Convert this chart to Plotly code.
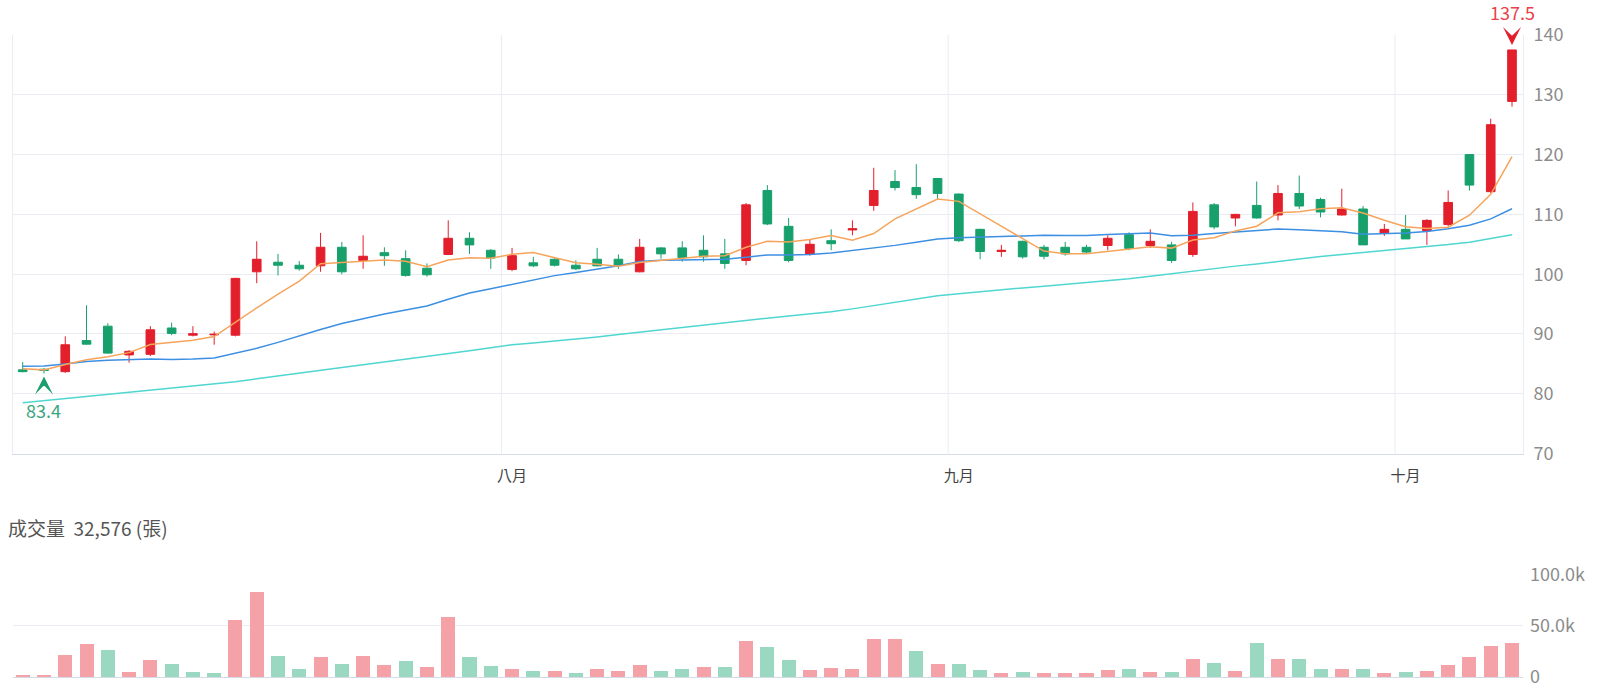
import plotly.graph_objects as go

# ---------------- data ----------------
opens = [84.0, 84.1, 83.7, 88.9, 91.3, 86.5, 86.6, 91.0, 89.8, 89.85,
         89.8, 100.4, 102.0, 101.5, 101.4, 104.5, 102.3, 103.6, 102.6, 101.0,
         103.3, 106.0, 104.0, 100.8, 101.9, 102.5, 101.5, 102.5, 102.5, 100.4,
         104.4, 104.4, 104.0, 103.4, 102.3, 114.0, 108.0, 103.3, 105.6, 107.4,
         111.5, 115.5, 114.5, 116.0, 113.4, 107.5, 103.8, 105.5, 104.5, 104.5,
         104.5, 104.8, 106.6, 104.8, 104.9, 103.3, 111.6, 109.4, 111.5, 109.9,
         113.5, 112.5, 109.9, 110.9, 106.9, 107.5, 107.3, 108.3, 120.0, 113.8, 128.9]
highs = [85.3, 84.3, 89.6, 94.8, 91.8, 87.3, 91.3, 91.9, 91.3, 90.4,
         99.4, 105.5, 103.4, 102.2, 106.9, 105.4, 106.5, 104.5, 104.0, 101.8,
         109.0, 107.0, 104.2, 104.4, 102.9, 102.7, 102.3, 104.4, 103.3, 105.9,
         104.5, 105.5, 106.5, 105.9, 111.9, 114.9, 109.4, 105.9, 107.5, 109.0,
         117.8, 117.4, 118.4, 116.1, 113.5, 107.6, 104.9, 105.6, 104.9, 105.4,
         104.9, 106.5, 107.0, 107.5, 105.4, 112.0, 111.9, 110.1, 115.5, 114.9,
         116.5, 112.8, 114.3, 111.4, 108.4, 109.9, 109.2, 114.0, 120.0, 126.0, 137.5]
lows = [83.6, 83.4, 83.5, 88.2, 86.7, 85.2, 86.3, 89.8, 89.6, 88.2,
        89.6, 98.5, 99.8, 100.6, 100.4, 100.0, 100.9, 101.4, 99.6, 99.6,
        103.2, 103.4, 100.9, 100.5, 101.2, 101.3, 100.7, 101.3, 100.9, 100.3,
        102.6, 102.1, 102.1, 100.9, 101.5, 108.2, 102.0, 103.1, 104.0, 106.5,
        110.6, 114.0, 112.6, 112.4, 105.4, 102.5, 102.9, 102.6, 102.5, 103.1,
        103.4, 104.0, 104.0, 104.4, 101.9, 102.9, 107.5, 108.0, 109.3, 109.0,
        110.9, 109.5, 109.8, 104.9, 106.4, 105.9, 104.9, 108.0, 114.0, 113.6, 128.0]
closes = [83.7, 83.9, 88.2, 88.3, 86.8, 87.1, 90.7, 90.1, 90.05, 89.95,
          99.3, 102.5, 101.5, 100.9, 104.5, 100.4, 103.0, 103.1, 99.8, 99.9,
          106.0, 104.9, 102.7, 103.1, 101.4, 101.5, 100.9, 101.4, 101.5, 104.5,
          103.4, 102.8, 102.9, 101.8, 111.6, 108.4, 102.3, 105.0, 105.1, 107.6,
          114.0, 114.5, 113.3, 113.5, 105.6, 103.8, 104.0, 102.9, 103.0, 103.4,
          103.7, 106.0, 104.3, 105.5, 102.3, 110.5, 107.9, 110.0, 109.4, 113.5,
          111.4, 110.4, 110.9, 104.9, 107.5, 105.9, 109.0, 112.0, 114.9, 125.0, 137.5]
volumes = [1900, 1900, 21000, 31700, 26200, 4900, 16500, 12000, 4500, 3800,
           55600, 82800, 20100, 7900, 19500, 12800, 20300, 11500, 15500, 9500,
           58000, 19200, 10600, 7100, 5200, 5800, 3900, 7800, 5500, 11300,
           5200, 7800, 9400, 9400, 35000, 28500, 16700, 6500, 8100, 7400,
           36600, 36600, 25200, 12000, 12000, 6500, 3900, 4900, 3900, 3600,
           3600, 6100, 7400, 4900, 4900, 17500, 12900, 5800, 32400, 17200,
           17500, 7800, 7800, 7400, 3600, 4900, 5800, 11700, 19400, 29800, 32576]
ma5 = [84.2, 84.0, 84.9, 85.7, 86.2, 86.88, 88.24, 88.62, 88.95, 89.58,
       92.02, 94.38, 96.66, 98.83, 101.74, 101.96, 102.06, 102.38, 102.16, 101.24,
       102.36, 102.74, 102.66, 103.32, 103.62, 102.72, 101.92, 101.66, 101.34, 101.96,
       102.34, 102.72, 103.02, 103.08, 104.5, 105.5, 105.4, 105.82, 106.48, 105.68,
       106.8, 109.24, 110.9, 112.58, 112.18, 110.14, 108.04, 105.96, 103.86, 103.42,
       103.4, 103.8, 104.08, 104.58, 104.36, 105.72, 106.1, 107.24, 108.02, 110.26,
       110.44, 110.94, 111.12, 110.22, 109.02, 107.92, 107.64, 107.86, 109.86, 113.36, 119.68]
ma20 = [84.6, 84.65, 85.0, 85.4, 85.6, 85.75, 85.8, 85.75, 85.8, 86.0,
        86.75, 87.6, 88.6, 89.7, 90.75, 91.75, 92.6, 93.35, 94.0, 94.69,
        95.8, 96.85, 97.58, 98.31, 99.04, 99.76, 100.27, 100.84, 101.41, 102.14,
        102.35, 102.36, 102.43, 102.48, 102.83, 103.23, 103.2, 103.29, 103.56, 103.94,
        104.34, 104.82, 105.35, 105.87, 106.08, 106.2, 106.35, 106.43, 106.5, 106.45,
        106.46, 106.62, 106.69, 106.88, 106.41, 106.52, 106.8, 107.05, 107.26, 107.56,
        107.43, 107.22, 107.1, 106.67, 106.77, 106.87, 107.12, 107.58, 108.17, 109.25, 110.94]
ma60 = [78.5, 78.85, 79.2, 79.55, 79.9, 80.2, 80.55, 80.9, 81.2, 81.55,
        82.0, 82.5, 83.0, 83.45, 83.9, 84.4, 84.85, 85.3, 85.8, 86.25,
        86.75, 87.2, 87.7, 88.2, 88.5, 88.8, 89.1, 89.5, 89.9, 90.3,
        90.7, 91.1, 91.5, 91.95, 92.3, 92.65, 93.0, 93.35, 93.7, 94.2,
        94.75, 95.3, 95.85, 96.4, 96.75, 97.1, 97.4, 97.7, 98.0, 98.3,
        98.6, 98.9, 99.25, 99.65, 100.1, 100.5, 100.95, 101.35, 101.7, 102.06,
        102.52, 102.96, 103.34, 103.62, 103.96, 104.28, 104.58, 104.95, 105.36, 105.95, 106.58]
prior_close = 83.5          # close of the session before the first visible one
month_labels = ["八月", "九月", "十月"]
month_first_session = [23, 44, 65]   # index of the first trading day of each month
price_ticks = [70, 80, 90, 100, 110, 120, 130, 140]
volume_ticks = [0, 50000, 100000]
volume_tick_text = ["0", "50.0k", "100.0k"]
volume_title = "成交量"
volume_unit = "張"

# ---------------- styles ----------------
RED = "#e31f2c"
GREEN = "#17a06c"
VOL_RED = "#f4a2a7"
VOL_GREEN = "#9ad8c1"
C_MA5 = "#f6a45c"
C_MA20 = "#3c8fe2"
C_MA60 = "#4fd6d1"
GRID = "#e9ecf3"
AXIS = "#d6dbe6"
FONT = "Noto Sans CJK TC, Noto Sans, sans-serif"

x = list(range(len(closes)))
prev = [prior_close] + closes[:-1]
vol_colors = [VOL_RED if c >= p else VOL_GREEN for c, p in zip(closes, prev)]

fig = go.Figure()

# price moving averages
for vals, col in ((ma60, C_MA60), (ma20, C_MA20), (ma5, C_MA5)):
    fig.add_trace(go.Scatter(x=x, y=vals, mode="lines", line=dict(color=col, width=1.5),
                             hoverinfo="skip", showlegend=False, xaxis="x", yaxis="y"))

fig.add_trace(go.Candlestick(
    x=x, open=opens, high=highs, low=lows, close=closes,
    increasing=dict(line=dict(color=RED, width=1), fillcolor=RED),
    decreasing=dict(line=dict(color=GREEN, width=1), fillcolor=GREEN),
    whiskerwidth=0, hoverinfo="skip", showlegend=False, xaxis="x", yaxis="y"))

fig.add_trace(go.Bar(x=x, y=volumes, marker=dict(color=vol_colors, line=dict(width=0)),
                     width=0.66, hoverinfo="skip", showlegend=False, xaxis="x2", yaxis="y2"))

# highest / lowest flags: label + notched arrowhead pointing at the extreme
i_hi = max(range(len(highs)), key=lambda i: highs[i])
i_lo = min(range(len(lows)), key=lambda i: lows[i])

annotations = [
    dict(x=i_hi, y=highs[i_hi], xref="x", yref="y", text=f"{highs[i_hi]:.1f}",
         showarrow=True, ax=0, ay=-37.5, arrowhead=3, arrowsize=3.0, arrowwidth=1,
         arrowcolor=RED, standoff=5, startstandoff=11,
         font=dict(size=18, color="#e8414b", family=FONT)),
    dict(x=i_lo, y=lows[i_lo], xref="x", yref="y", text=f"{lows[i_lo]:.1f}",
         showarrow=True, ax=0, ay=36.5, arrowhead=3, arrowsize=3.0, arrowwidth=1,
         arrowcolor="#1c9e6e", standoff=3, startstandoff=11,
         font=dict(size=18, color="#3aa57f", family=FONT)),
    dict(x=-0.0045, y=0.2322, xref="paper", yref="paper", xanchor="left", yanchor="middle",
         text=f"{volume_title}\u00a0\u00a0{volumes[-1]:,} ({volume_unit})", showarrow=False,
         font=dict(size=19, color="#555555", family=FONT)),
]

shapes = [dict(type="line", xref="x", yref="y domain", x0=m - 0.5, x1=m - 0.5, y0=0, y1=1,
               line=dict(color=GRID, width=1), layer="below") for m in month_first_session]

fig.update_layout(
    width=1600, height=700,
    margin=dict(l=12, r=77, t=35, b=19),
    paper_bgcolor="white", plot_bgcolor="white",
    font=dict(family=FONT),
    boxgap=0.42,
    bargap=0,
    showlegend=False,
    annotations=annotations,
    shapes=shapes,
    xaxis=dict(domain=[0, 1], anchor="y", range=[-0.456, 70.517],
               tickmode="array", tickvals=month_first_session, ticktext=month_labels,
               showgrid=False, zeroline=False, showline=True, linecolor=AXIS, linewidth=1,
               ticks="", ticklabelstandoff=8, tickfont=dict(size=15, color="#444444"),
               rangeslider=dict(visible=False)),
    yaxis=dict(domain=[0.348, 1], anchor="x", side="right", range=[70, 140],
               tickmode="array", tickvals=price_ticks,
               showgrid=True, gridcolor=GRID, zeroline=False,
               showline=True, mirror=True, linecolor=GRID, ticks="",
               ticklabelstandoff=6, tickfont=dict(size=18, color="#8c8c8c")),
    xaxis2=dict(domain=[0, 1], anchor="y2", matches="x", showticklabels=False,
                showgrid=False, zeroline=False, showline=True, linecolor=AXIS, ticks=""),
    yaxis2=dict(domain=[0, 0.16], anchor="x2", side="right", range=[0, 100000],
                tickmode="array", tickvals=volume_ticks, ticktext=volume_tick_text,
                showgrid=True, gridcolor=GRID, zeroline=False, showline=False, ticks="",
                ticklabelstandoff=6, tickfont=dict(size=18, color="#8c8c8c")),
)

fig.write_html("out.html")
